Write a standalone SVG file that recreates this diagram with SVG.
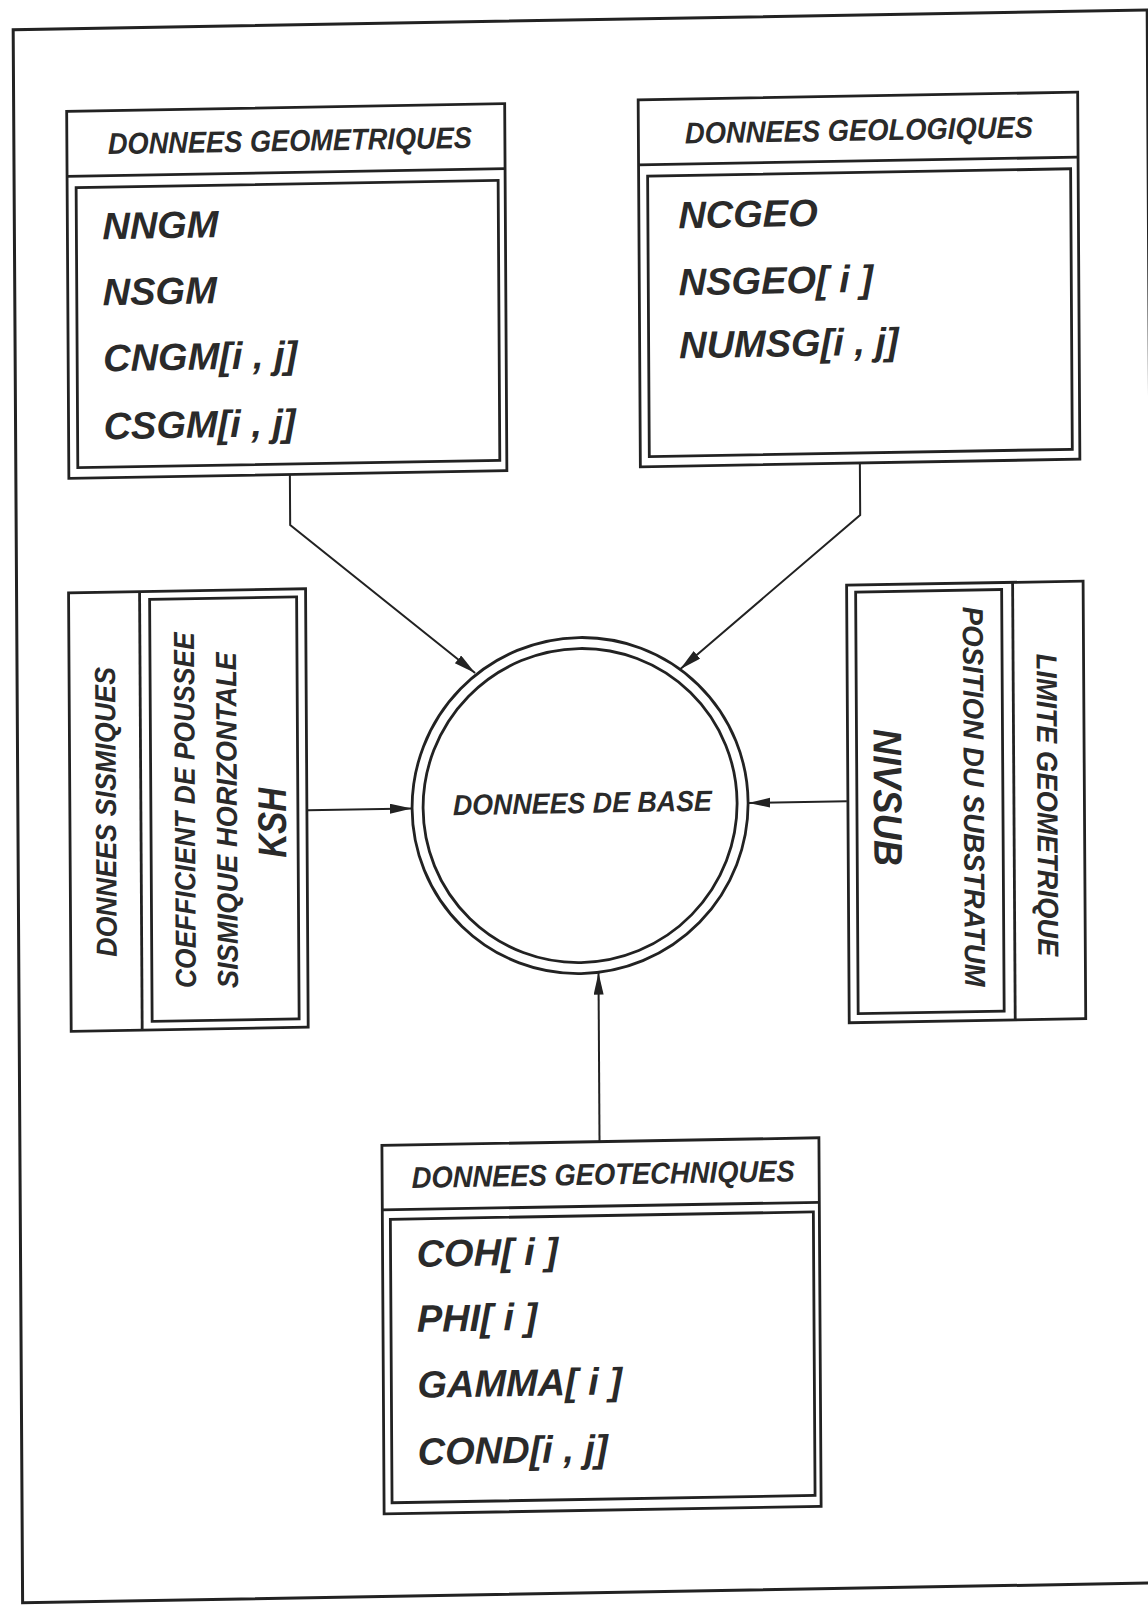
<svg xmlns="http://www.w3.org/2000/svg" width="1148" height="1618" viewBox="0 0 1148 1618">
<style>
.ln { fill: none; stroke: #222; stroke-width: 2.8; }
.fr { fill: none; stroke: #222; stroke-width: 3; }
.t { font-family: "Liberation Sans", Arial, sans-serif; font-weight: bold; font-style: italic; fill: #2a2a2a; }
.hdr { font-size: 30px; }
.item { font-size: 38px; }
.rot { font-size: 29px; }
.big { font-size: 40px; }
.conn { fill: none; stroke: #222; stroke-width: 2; marker-end: url(#arr); }
</style>
<defs>
<marker id="arr" markerUnits="userSpaceOnUse" markerWidth="24" markerHeight="12" refX="22" refY="5" orient="auto">
<path d="M0,0 L22,5 L0,10 z" fill="#222"/>
</marker>
</defs>
<rect x="0" y="0" width="1148" height="1618" fill="#fff"/>
<g transform="matrix(1 -0.0175 0.006 1 0 0)">
<g id="frame">
<rect class="fr" x="13" y="30" width="1134" height="1573"/>
</g>
<g id="node-geometriques">
<rect class="ln" x="66" y="112.5" width="438" height="367"/>
<line class="ln" x1="66" y1="177.5" x2="504" y2="177.5"/>
<rect class="ln" x="75" y="189" width="422" height="280"/>
<text class="t hdr" x="107" y="156" textLength="364" lengthAdjust="spacingAndGlyphs">DONNEES GEOMETRIQUES</text>
<text class="t item" x="101" y="241">NNGM</text>
<text class="t item" x="101" y="307">NSGM</text>
<text class="t item" x="101" y="373">CNGM[i , j]</text>
<text class="t item" x="101" y="441">CSGM[i , j]</text>
</g>
<g id="node-geologiques">
<rect class="ln" x="637.5" y="111" width="439.5" height="367"/>
<line class="ln" x1="637.5" y1="176" x2="1077" y2="176"/>
<rect class="ln" x="646.5" y="187.5" width="423" height="280.5"/>
<text class="t hdr" x="684" y="155.5" textLength="348" lengthAdjust="spacingAndGlyphs">DONNEES GEOLOGIQUES</text>
<text class="t item" x="677" y="240">NCGEO</text>
<text class="t item" x="677" y="307">NSGEO[ i ]</text>
<text class="t item" x="677" y="370">NUMSG[i , j]</text>
</g>
<g id="node-sismiques">
<rect class="ln" x="65" y="594" width="237" height="438.5"/>
<line class="ln" x1="136" y1="594" x2="136" y2="1032.5"/>
<rect class="ln" x="146" y="602" width="147" height="422"/>
<text class="t rot" transform="translate(111 813.7) rotate(-90)" text-anchor="middle" textLength="290" lengthAdjust="spacingAndGlyphs">DONNEES SISMIQUES</text>
<text class="t rot" transform="translate(190 991.4) rotate(-90)" textLength="356" lengthAdjust="spacingAndGlyphs">COEFFICIENT DE POUSSEE</text>
<text class="t rot" transform="translate(232 992) rotate(-90)" textLength="336" lengthAdjust="spacingAndGlyphs">SISMIQUE HORIZONTALE</text>
<text class="t big" transform="translate(281 827.5) rotate(-90)" text-anchor="middle" textLength="70" lengthAdjust="spacingAndGlyphs">KSH</text>
</g>
<g id="node-limite">
<rect class="ln" x="843" y="600" width="236.5" height="437.5"/>
<line class="ln" x1="1009" y1="600" x2="1009" y2="1037.5"/>
<rect class="ln" x="852" y="607" width="146" height="421.5"/>
<text class="t rot" transform="translate(1032.5 823.2) rotate(90)" text-anchor="middle" textLength="303" lengthAdjust="spacingAndGlyphs">LIMITE GEOMETRIQUE</text>
<text class="t rot" transform="translate(959 623.6) rotate(90)" textLength="380" lengthAdjust="spacingAndGlyphs">POSITION DU SUBSTRATUM</text>
<text class="t big" transform="translate(869 812.8) rotate(90)" text-anchor="middle" textLength="137" lengthAdjust="spacingAndGlyphs">NIVSUB</text>
</g>
<g id="node-base">
<circle class="ln" cx="575.2" cy="815.6" r="168"/>
<circle class="ln" cx="575.2" cy="815.6" r="157"/>
<text class="t rot" x="448" y="823" textLength="259" lengthAdjust="spacingAndGlyphs">DONNEES DE BASE</text>
</g>
<g id="node-geotechniques">
<rect class="ln" x="375" y="1152" width="437" height="368.5"/>
<line class="ln" x1="375" y1="1216.5" x2="812" y2="1216.5"/>
<rect class="ln" x="383" y="1226" width="423" height="283.5"/>
<text class="t hdr" x="404.5" y="1195" textLength="383" lengthAdjust="spacingAndGlyphs">DONNEES GEOTECHNIQUES</text>
<text class="t item" x="409" y="1274">COH[ i ]</text>
<text class="t item" x="409" y="1339">PHI[ i ]</text>
<text class="t item" x="409" y="1405">GAMMA[ i ]</text>
<text class="t item" x="409" y="1472">COND[i , j]</text>
</g>
<g id="connectors">
<path class="conn" d="M287,479.5 L287,530 L471,681.3"/>
<path class="conn" d="M857,478 L857,530 L676,681"/>
<path class="conn" d="M303,815.5 L407,815.5"/>
<path class="conn" d="M842,816 L743.5,816"/>
<path class="conn" d="M592.6,1152 L592.6,983"/>
</g>
</g>
</svg>
